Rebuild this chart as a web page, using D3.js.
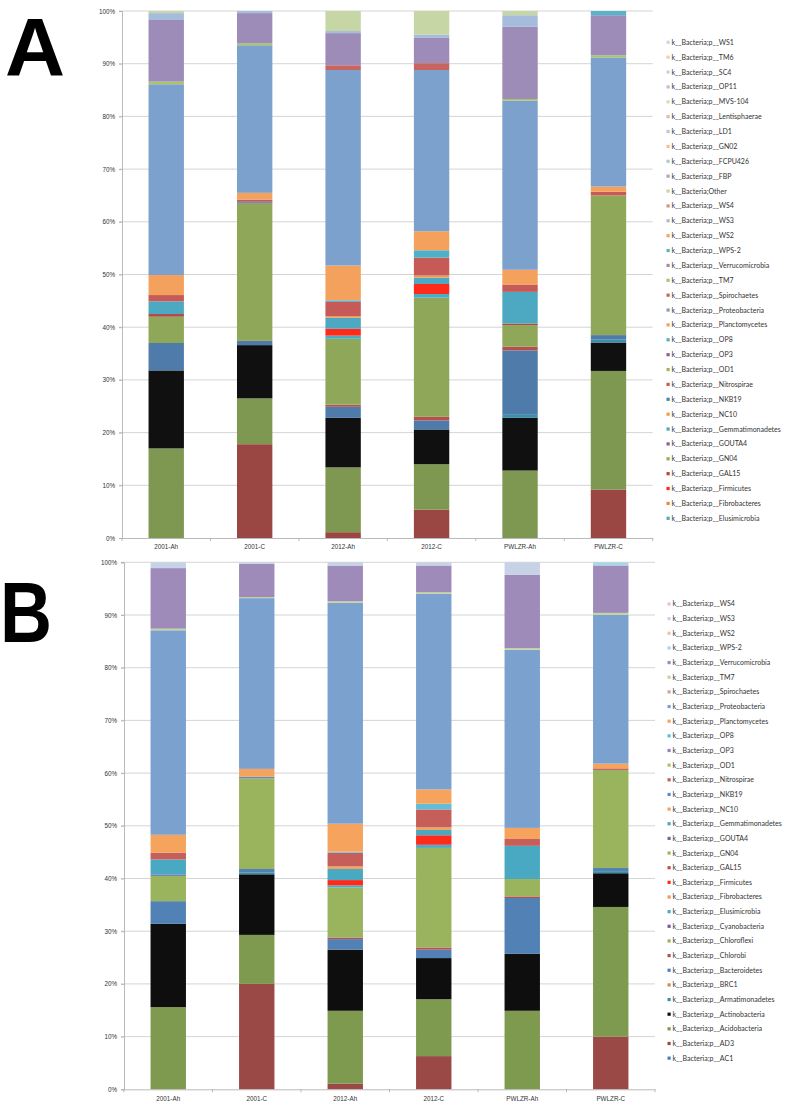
<!DOCTYPE html>
<html><head><meta charset="utf-8">
<script src="https://cdn.jsdelivr.net/npm/d3@7"></script>
<style>
html,body{margin:0;padding:0;background:#fff;}
svg{display:block;}
</style></head>
<body>
<script>
// ---------- DATA ----------
const categories = ["2001-Ah","2001-C","2012-Ah","2012-C","PWLZR-Ah","PWLZR-C"];
// stack order (bottom -> top)
const phyla = ["AC1","AD3","Acidobacteria","Actinobacteria","Armatimonadetes","BRC1","Bacteroidetes",
  "Chlorobi","Chloroflexi","Cyanobacteria","Elusimicrobia","Fibrobacteres","Firmicutes","GAL15","GN04",
  "GOUTA4","Gemmatimonadetes","NC10","NKB19","Nitrospirae","OD1","OP3","OP8","Planctomycetes",
  "Proteobacteria","Spirochaetes","TM7","Verrucomicrobia","WPS-2","WS2","WS3","WS4",
  "Other","FBP","FCPU426","GN02","LD1","Lentisphaerae","MVS-104","OP11","SC4","TM6","WS1"];
const yTicks = [0,10,20,30,40,50,60,70,80,90,100];

// Panel A: % per phylum (aligned with phyla, 43 entries)
const A_2001_Ah  = [0,0,17.0,14.8,0,0,5.2,0,5.0,0, 0,0,0,0.5,0,0,2.4,0,0,1.2, 0,0,0,3.8,36.2,0,0.5,11.7,0,0, 1.3,0,0.4,0,0,0,0,0,0,0, 0,0,0];
const A_2001_C   = [0,17.8,8.7,10.1,0,0,0.8,0,26.2,0, 0,0,0,0,0,0.3,0,0,0,0.3, 0,0,0,1.3,28.0,0,0.4,5.7,0,0, 0.4,0,0,0,0,0,0,0,0,0, 0,0,0];
const A_2012_Ah  = [0,1.1,12.3,9.4,0,0,2.1,0.4,12.5,0, 0.6,0,1.3,0,0,0,2.1,0.3,0,2.7, 0,0,0.3,6.6,37.1,0.9,0,6.1,0,0, 0.4,0,3.8,0,0,0,0,0,0,0, 0,0,0];
const A_2012_C   = [0,5.4,8.6,6.6,0,0,1.7,0.7,22.6,0, 0.7,0,1.9,0,0,0,1.2,0.4,0,3.4, 0,0,1.4,3.6,30.6,1.3,0,4.8,0,0, 0.6,0,4.5,0,0,0,0,0,0,0, 0,0,0];
const A_PWLZR_Ah = [0,0,12.8,10.0,0.7,0,12.1,0.7,4.1,0, 0,0,0,0.3,0,0,6.0,0,0,1.4, 0,0,0,2.8,32.1,0,0.3,13.7,0,0, 2.2,0,0.8,0,0,0,0,0,0,0, 0,0,0];
const A_PWLZR_C  = [0,9.2,22.5,5.4,0.6,0,0.8,0,26.5,0, 0,0,0,0,0,0,0,0,0,0.7, 0,0,0,1.0,24.5,0,0.4,7.6,0.8,0, 0,0,0,0,0,0,0,0,0,0, 0,0,0];

// Panel B: % per phylum (first 32 phyla)
const B_2001_Ah  = [0,0,15.6,15.8,0,0,4.3,0,4.8,0, 0,0,0,0,0,0.2,2.9,0,0,1.3, 0,0,0,3.4,38.8,0,0.3,11.5,0,0, 1.1,0];
const B_2001_C   = [0,20.0,9.3,11.5,0.3,0,0.7,0,17.2,0, 0,0,0,0,0,0,0,0,0.3,0, 0,0,0,1.5,32.4,0,0.2,6.3,0,0, 0.3,0];
const B_2012_Ah  = [0,1.1,13.8,11.6,0,0,2.0,0.3,9.5,0, 0.4,0,1.0,0,0,0,2.1,0.5,0,2.6, 0,0,0.2,5.3,41.9,0,0.3,6.7,0,0, 0.7,0];
const B_2012_C   = [0,6.3,10.8,7.8,0,0,1.6,0.4,18.9,0, 0.6,0,1.8,0,0,0,1.0,0.5,0,3.4, 0,0,1.1,2.7,37.1,0,0.3,5.1,0,0, 0.6,0];
const B_PWLZR_Ah = [0,0,14.9,10.8,0,0,10.6,0.3,3.3,0, 0,0,0,0,0,0,6.3,0,0,1.3, 0,0,0,2.1,33.8,0,0.3,13.9,0,0, 2.4,0];
const B_PWLZR_C  = [0,10.0,24.6,6.4,0.4,0,0.6,0,18.6,0, 0,0,0,0,0,0,0,0,0,0.3, 0,0,0,0.9,28.2,0,0.4,9.0,0.6,0, 0,0];

// ---------- STYLES ----------
const colorsA = ["#4F81BD","#9A4744","#7E9851","#101010","#3D8EA8","#E5883C","#4E7BAA","#B6504D","#8FA759","#7B5E9E",
  "#4BACC6","#E8893D","#FF2A1A","#B04844","#8DB255","#7D64A6","#4DA8C1","#EE9B55","#4E7EB5","#C55A57",
  "#9BBB59","#8064A2","#4FB0C8","#F3A15C","#7CA1CC","#C96560","#A9C46C","#9D8BB8","#58B3CB","#F5A461",
  "#A5BCDD","#D9908D","#C6D7A5","#B0A2C8","#9DCFDE","#F9BE8F","#B9C6E1","#E2B7B6","#D2E1BC","#C2BBD3",
  "#BFD8E1","#F6C9B0","#CFD5E6"];
const colorsB = ["#4A7EBB","#9B4946","#7E9A4F","#0E0E0E","#3D8FA8","#E08A40","#5281B5","#B5514F","#9AB35D","#7A5C9D",
  "#4BACC6","#F39A4F","#FF2A1A","#C0504D","#9BBB59","#8064A2","#4AA9C2","#F5A25A","#5B8BC8","#C65E5A",
  "#A8C46C","#9A82BA","#63BDD6","#F6A35E","#7BA1CF","#DA9E9C","#C3D69B","#9E8BBA","#A9D7E4","#F9C09F",
  "#C8D2E6","#EAC4C3"];

const W = 789, H = 1107;
const svg = d3.select("body").append("svg").attr("width", W).attr("height", H);
svg.append("rect").attr("width", W).attr("height", H).attr("fill", "#fff");

function panel(cfg) {
  const n = cfg.nSeries;
  const keys = d3.range(n);
  const rows = categories.map((c, i) => {
    const o = {cat: c};
    keys.forEach(k => o[k] = cfg.values[i][k]);
    return o;
  });
  const x = d3.scaleBand().domain(categories).range([cfg.x0, cfg.x1]).paddingInner(0.6).paddingOuter(0.3);
  const y = d3.scaleLinear().domain([0, 100]).range([cfg.yBot, cfg.yTop]);
  const g = svg.append("g");

  // gridlines
  g.append("g").selectAll("line").data(yTicks.filter(t => t > 0)).join("line")
    .attr("x1", cfg.x0 - 3).attr("x2", cfg.x1)
    .attr("y1", d => y(d)).attr("y2", d => y(d))
    .attr("stroke", "#C9C9C9").attr("stroke-width", 0.8);

  // y axis
  const ya = g.append("g").attr("transform", `translate(${cfg.x0},0)`)
    .call(d3.axisLeft(y).tickValues(yTicks).tickFormat(d => d + "%").tickSize(3).tickPadding(4));
  ya.select(".domain").attr("stroke", "#A9A9A9").attr("stroke-width", 0.8);
  ya.selectAll(".tick line").attr("stroke", "#A9A9A9").attr("stroke-width", 0.8);
  ya.selectAll("text").attr("font-family", "Liberation Sans, Arial, sans-serif").attr("font-size", 6.3).attr("fill", "#333");

  // stacked bars
  const stack = d3.stack().keys(keys)(rows);
  g.append("g").selectAll("g").data(stack).join("g")
    .attr("fill", d => cfg.colors[d.key])
    .selectAll("rect").data(d => d.filter(p => p[1] - p[0] > 0)).join("rect")
    .attr("x", d => x(d.data.cat))
    .attr("width", x.bandwidth())
    .attr("y", d => y(d[1]))
    .attr("height", d => y(d[0]) - y(d[1]));

  // x axis
  const xa = g.append("g").attr("transform", `translate(0,${cfg.yBot})`)
    .call(d3.axisBottom(x).tickSize(0).tickPadding(7));
  xa.select(".domain").attr("stroke", "#A9A9A9").attr("stroke-width", 0.8);
  xa.selectAll("text").attr("font-family", "Liberation Sans, Arial, sans-serif").attr("font-size", 6.3).attr("fill", "#333");
  // category separator ticks
  const step = x.step();
  g.append("g").selectAll("line").data(d3.range(categories.length + 1)).join("line")
    .attr("x1", i => cfg.x0 + i * step).attr("x2", i => cfg.x0 + i * step)
    .attr("y1", cfg.yBot).attr("y2", cfg.yBot + 3)
    .attr("stroke", "#A9A9A9").attr("stroke-width", 0.8);

  // legend (top entry = last series)
  const legendIdx = d3.range(n - 1, n - 1 - cfg.legendCount, -1);
  const lg = g.append("g");
  const item = lg.selectAll("g").data(legendIdx).join("g")
    .attr("transform", (d, i) => `translate(${cfg.legX},${cfg.legY + i * cfg.legStep})`);
  item.append("rect").attr("x", -3.5).attr("y", -1.6).attr("width", 3.2).attr("height", 3.2)
    .attr("fill", d => cfg.colors[d]);
  item.append("text").attr("x", 1.5).attr("dy", "0.35em")
    .attr("font-family", "Lato, sans-serif").attr("font-size", 7)
    .attr("fill", "#333")
    .text(d => phyla[d] === "Other" ? "k__Bacteria;Other" : "k__Bacteria;p__" + phyla[d]);

  // panel letter
  svg.append("text").attr("x", cfg.letterX).attr("y", cfg.letterY)
    .attr("font-family", "Liberation Sans, Arial, sans-serif").attr("font-weight", "bold")
    .attr("font-size", cfg.letterSize).attr("fill", "#000")
    .attr("textLength", cfg.letterW).attr("lengthAdjust", "spacingAndGlyphs")
    .text(cfg.letter);
}

panel({
  letter: "A", letterX: 5, letterY: 74.5, letterSize: 82, letterW: 60,
  x0: 122, x1: 652.7, yTop: 11, yBot: 538,
  nSeries: 43, colors: colorsA,
  values: [A_2001_Ah, A_2001_C, A_2012_Ah, A_2012_C, A_PWLZR_Ah, A_PWLZR_C],
  legX: 670, legY: 42.3, legStep: 14.875, legendCount: 33
});
panel({
  letter: "B", letterX: 0, letterY: 642, letterSize: 86, letterW: 52,
  x0: 124, x1: 655, yTop: 562.3, yBot: 1089.3,
  nSeries: 32, colors: colorsB,
  values: [B_2001_Ah, B_2001_C, B_2012_Ah, B_2012_C, B_PWLZR_Ah, B_PWLZR_C],
  legX: 671, legY: 604, legStep: 14.65, legendCount: 32
});
</script>
</body></html>
